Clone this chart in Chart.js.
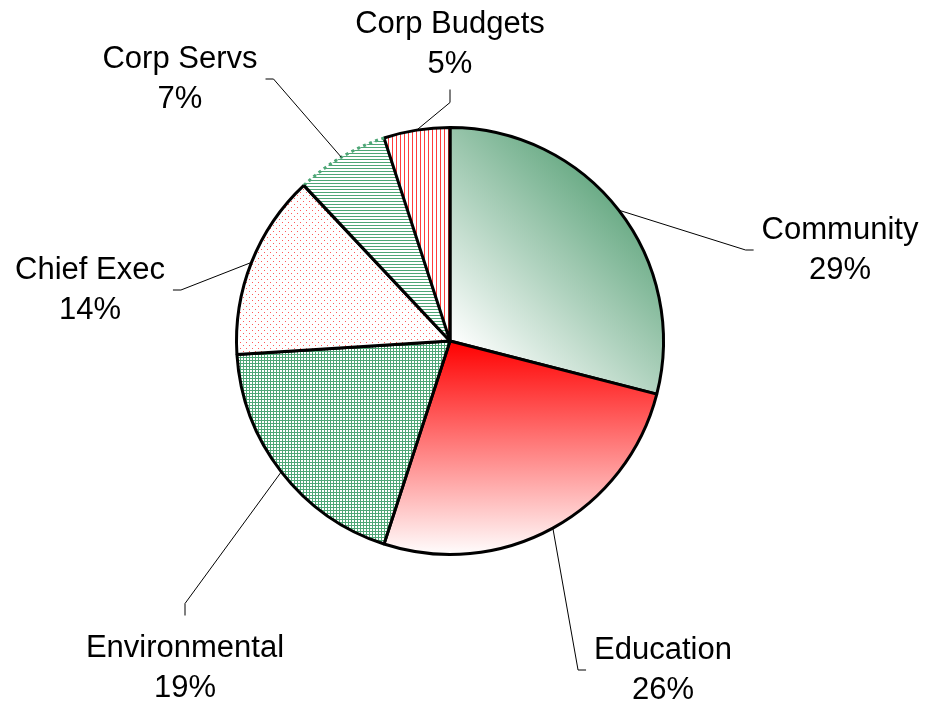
<!DOCTYPE html>
<html>
<head>
<meta charset="utf-8">
<script src="https://cdn.jsdelivr.net/npm/chart.js@4/dist/chart.umd.min.js"></script>
<style>
  html, body { margin: 0; padding: 0; background: #ffffff; }
  #wrap { width: 929px; height: 704px; }
</style>
</head>
<body>
<div id="wrap"><canvas id="budgetPie" width="929" height="704"></canvas></div>
<script>
// Spending split by directorate (percent of total)
const categories = ['Community', 'Education', 'Environmental', 'Chief Exec', 'Corp Servs', 'Corp Budgets'];
const shares = [29, 26, 19, 14, 7, 5];

const GREEN = 'rgb(78,166,118)';
const RED = 'rgb(255,60,60)';

// Small repeating tiles used as slice fills
function makeTile(w, h, paint) {
  const c = document.createElement('canvas');
  c.width = w; c.height = h;
  const g = c.getContext('2d');
  g.fillStyle = '#ffffff';
  g.fillRect(0, 0, w, h);
  paint(g);
  return c;
}
const tiles = {
  grid: makeTile(3, 3, g => { g.fillStyle = GREEN; g.fillRect(0, 0, 3, 1); g.fillRect(0, 0, 1, 3); }),
  dots: makeTile(6, 6, g => { g.fillStyle = 'rgb(255,90,90)'; g.fillRect(0, 0, 1, 1); g.fillRect(3, 3, 1, 1); }),
  hlines: makeTile(3, 3, g => { g.fillStyle = GREEN; g.fillRect(0, 0, 3, 1); }),
  vlines: makeTile(4, 4, g => { g.fillStyle = RED; g.fillRect(0, 0, 1, 4); })
};

function pieGeometry(chart) {
  const a = chart.chartArea;
  return { cx: (a.left + a.right) / 2, cy: (a.top + a.bottom) / 2, r: Math.min(a.width, a.height) / 2 };
}

function sliceFill(context) {
  const chart = context.chart;
  if (!chart.chartArea) return '#ffffff';
  const g = chart.ctx;
  const { cx, cy, r } = pieGeometry(chart);
  switch (context.dataIndex) {
    case 0: {
      const grad = g.createLinearGradient(cx, cy, cx + r * 0.72, cy - r * 0.72);
      grad.addColorStop(0, '#ffffff');
      grad.addColorStop(1, 'rgb(104,170,132)');
      return grad;
    }
    case 1: {
      const grad = g.createLinearGradient(0, cy, 0, cy + r);
      grad.addColorStop(0, '#ff0000');
      grad.addColorStop(1, '#ffffff');
      return grad;
    }
    case 2: return g.createPattern(tiles.grid, 'repeat');
    case 3: return g.createPattern(tiles.dots, 'repeat');
    case 4: return g.createPattern(tiles.hlines, 'repeat');
    default: return g.createPattern(tiles.vlines, 'repeat');
  }
}

// Where each two-line label sits, relative to the pie centre, and which side its leader meets
const labelSpots = [
  { dx: 390, dy: -91, side: 'left' },
  { dx: 213, dy: 329, side: 'left' },
  { dx: -265, dy: 327, side: 'top' },
  { dx: -360, dy: -51, side: 'right' },
  { dx: -270, dy: -262, side: 'right' },
  { dx: 0, dy: -297, side: 'bottom' }
];

const FONT_SIZE = 31;
const LINE_GAP = 40;

const pieLabels = {
  id: 'pieLabels',
  afterDatasetsDraw(chart) {
    const ctx = chart.ctx;
    const meta = chart.getDatasetMeta(0);
    const data = chart.data.datasets[0].data;
    const total = data.reduce((s, v) => s + v, 0);

    // dotted rim on the Corp Servs slice, and the black edge it shares with Chief Exec
    const servs = meta.data[4].getProps(['x', 'y', 'startAngle', 'endAngle', 'outerRadius'], true);
    ctx.save();
    ctx.strokeStyle = GREEN;
    ctx.lineWidth = 3;
    ctx.setLineDash([3, 3.5]);
    ctx.beginPath();
    ctx.arc(servs.x, servs.y, servs.outerRadius, servs.startAngle, servs.endAngle);
    ctx.stroke();
    ctx.setLineDash([]);
    ctx.strokeStyle = '#000000';
    ctx.lineWidth = 3;
    ctx.beginPath();
    ctx.moveTo(servs.x, servs.y);
    ctx.lineTo(servs.x + servs.outerRadius * Math.cos(servs.startAngle), servs.y + servs.outerRadius * Math.sin(servs.startAngle));
    ctx.stroke();
    ctx.restore();

    ctx.save();
    ctx.font = FONT_SIZE + 'px "Liberation Sans", Arial, sans-serif';
    ctx.fillStyle = '#000000';
    ctx.textAlign = 'center';
    ctx.textBaseline = 'middle';
    meta.data.forEach((arc, i) => {
      const p = arc.getProps(['x', 'y', 'startAngle', 'endAngle', 'outerRadius'], true);
      const mid = (p.startAngle + p.endAngle) / 2;
      const sx = p.x + p.outerRadius * Math.cos(mid);
      const sy = p.y + p.outerRadius * Math.sin(mid);
      const spot = labelSpots[i];
      const lx = p.x + spot.dx;
      const ly = p.y + spot.dy;
      const lines = [chart.data.labels[i], Math.round(data[i] / total * 100) + '%'];
      const w = Math.max(...lines.map(t => ctx.measureText(t).width));
      const top = ly - LINE_GAP / 2 - FONT_SIZE * 0.5;
      const bottom = ly + LINE_GAP / 2 + FONT_SIZE * 0.5;
      let end, elbow;
      if (spot.side === 'left') { end = [lx - w / 2 - 8, ly]; elbow = [end[0] - 8, ly]; }
      else if (spot.side === 'right') { end = [lx + w / 2 + 8, ly]; elbow = [end[0] + 8, ly]; }
      else if (spot.side === 'top') { end = [lx, top - 17]; elbow = [lx, end[1] - 12]; }
      else { end = [lx, bottom + 10]; elbow = [lx, end[1] + 13]; }
      ctx.strokeStyle = '#000000';
      ctx.lineWidth = 1;
      ctx.beginPath();
      ctx.moveTo(sx, sy);
      ctx.lineTo(elbow[0], elbow[1]);
      ctx.lineTo(end[0], end[1]);
      ctx.stroke();
      ctx.fillText(lines[0], lx, ly - LINE_GAP / 2);
      ctx.fillText(lines[1], lx, ly + LINE_GAP / 2);
    });
    ctx.restore();
  }
};

new Chart(document.getElementById('budgetPie'), {
  type: 'pie',
  data: {
    labels: categories,
    datasets: [{
      data: shares,
      backgroundColor: sliceFill,
      borderColor: '#000000',
      borderWidth: [3, 3, 3, 3, 0, 3],
      borderAlign: 'center'
    }]
  },
  options: {
    responsive: false,
    animation: false,
    layout: { padding: { left: 235, right: 264, top: 126, bottom: 148 } },
    plugins: {
      legend: { display: false },
      tooltip: { enabled: false }
    }
  },
  plugins: [pieLabels]
});
</script>
</body>
</html>
